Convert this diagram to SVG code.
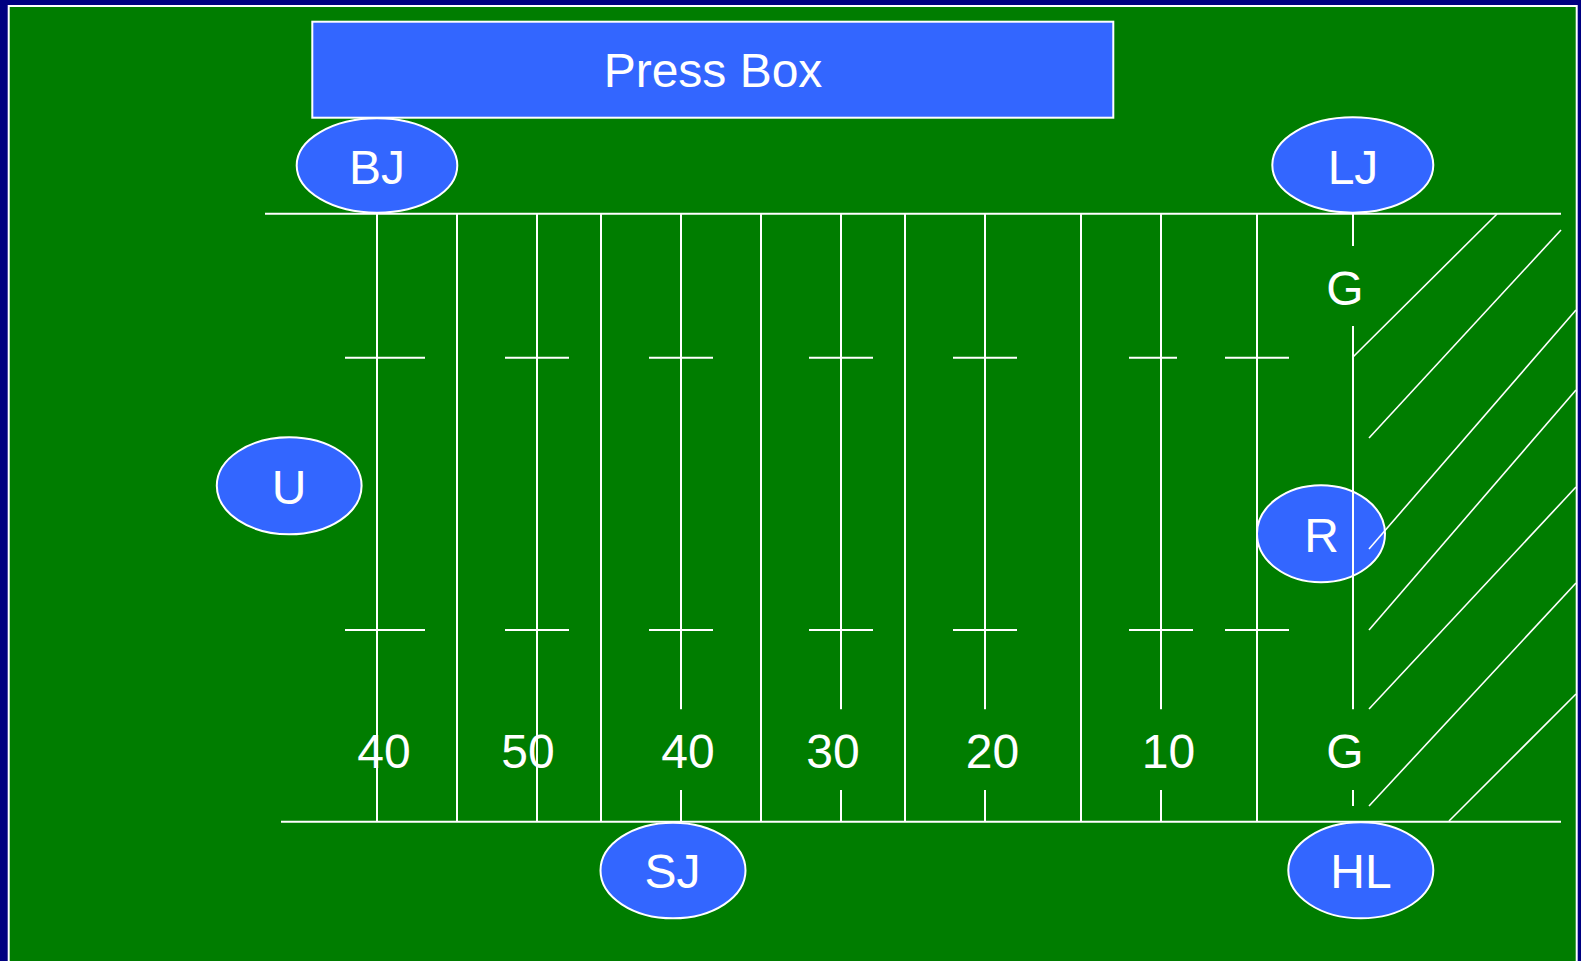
<svg xmlns="http://www.w3.org/2000/svg" width="1581" height="961" viewBox="0 0 1581 961">
<style>
.ln{stroke:#FFFFFF;stroke-width:2;fill:none}
.dg{stroke:#FFFFFF;stroke-width:1.6;fill:none}
.nd{fill:#3366FF;stroke:#FFFFFF;stroke-width:2}
.tx{font-family:"Liberation Sans",Arial,sans-serif;font-size:48px;fill:#FFFFFF;text-anchor:middle}
</style>
<rect x="0" y="0" width="1581" height="961" fill="#000080"/>
<rect x="8.7" y="6" width="1568" height="1000" fill="#007D00" stroke="#FFFFFF" stroke-width="2"/>

<g id="node-R">
<ellipse class="nd" cx="1321" cy="533.7" rx="64" ry="48.5"/>
<text class="tx" x="1321.5" y="551.5">R</text>
</g>

<g id="connectors">
<line class="ln" x1="265" y1="213.7" x2="1561" y2="213.7"/>
<line class="ln" x1="281" y1="821.7" x2="1561" y2="821.7"/>
<line class="ln" x1="377" y1="214" x2="377" y2="822"/>
<line class="ln" x1="457" y1="214" x2="457" y2="822"/>
<line class="ln" x1="537" y1="214" x2="537" y2="822"/>
<line class="ln" x1="601" y1="214" x2="601" y2="822"/>
<line class="ln" x1="681" y1="214" x2="681" y2="709.3"/>
<line class="ln" x1="681" y1="790" x2="681" y2="822"/>
<line class="ln" x1="761" y1="214" x2="761" y2="822"/>
<line class="ln" x1="841" y1="214" x2="841" y2="709.3"/>
<line class="ln" x1="841" y1="790" x2="841" y2="822"/>
<line class="ln" x1="905" y1="214" x2="905" y2="822"/>
<line class="ln" x1="985" y1="214" x2="985" y2="709.3"/>
<line class="ln" x1="985" y1="790" x2="985" y2="822"/>
<line class="ln" x1="1081" y1="214" x2="1081" y2="822"/>
<line class="ln" x1="1161" y1="214" x2="1161" y2="709.3"/>
<line class="ln" x1="1161" y1="790" x2="1161" y2="822"/>
<line class="ln" x1="1257" y1="214" x2="1257" y2="822"/>
<line class="ln" x1="1353" y1="214" x2="1353" y2="246"/>
<line class="ln" x1="1353" y1="326" x2="1353" y2="709.3"/>
<line class="ln" x1="1353" y1="790" x2="1353" y2="806"/>
<line class="ln" x1="345" y1="357.7" x2="425" y2="357.7"/>
<line class="ln" x1="505" y1="357.7" x2="569" y2="357.7"/>
<line class="ln" x1="649" y1="357.7" x2="713" y2="357.7"/>
<line class="ln" x1="809" y1="357.7" x2="873" y2="357.7"/>
<line class="ln" x1="953" y1="357.7" x2="1017" y2="357.7"/>
<line class="ln" x1="1129" y1="357.7" x2="1177" y2="357.7"/>
<line class="ln" x1="1225" y1="357.7" x2="1289" y2="357.7"/>
<line class="ln" x1="345" y1="630" x2="425" y2="630"/>
<line class="ln" x1="505" y1="630" x2="569" y2="630"/>
<line class="ln" x1="649" y1="630" x2="713" y2="630"/>
<line class="ln" x1="809" y1="630" x2="873" y2="630"/>
<line class="ln" x1="953" y1="630" x2="1017" y2="630"/>
<line class="ln" x1="1129" y1="630" x2="1193" y2="630"/>
<line class="ln" x1="1225" y1="630" x2="1289" y2="630"/>
<line class="dg" x1="1497" y1="214" x2="1353" y2="357"/>
<line class="dg" x1="1561" y1="230" x2="1369" y2="438"/>
<line class="dg" x1="1576" y1="310" x2="1369" y2="549"/>
<line class="dg" x1="1576" y1="390" x2="1369" y2="630"/>
<line class="dg" x1="1576" y1="487" x2="1369" y2="709"/>
<line class="dg" x1="1576" y1="583" x2="1369" y2="806"/>
<line class="dg" x1="1576" y1="694" x2="1449" y2="821"/>
</g>

<g id="field-labels">
<text class="tx" x="1345" y="304.5">G</text>
<text class="tx" x="384" y="768.3">40</text>
<text class="tx" x="528" y="768.3">50</text>
<text class="tx" x="688" y="768.3">40</text>
<text class="tx" x="833" y="768.3">30</text>
<text class="tx" x="992.5" y="768.3">20</text>
<text class="tx" x="1168.5" y="768.3">10</text>
<text class="tx" x="1345" y="768.3">G</text>
</g>

<g id="node-pressbox">
<rect class="nd" x="312.3" y="21.7" width="801" height="96"/>
<text class="tx" x="713" y="87.3">Press Box</text>
</g>
<g id="node-BJ">
<ellipse class="nd" cx="377" cy="165.5" rx="80.3" ry="47.2"/>
<text class="tx" x="377" y="184.3">BJ</text>
</g>
<g id="node-LJ">
<ellipse class="nd" cx="1352.8" cy="165" rx="80.5" ry="47.7"/>
<text class="tx" x="1353" y="184.3">LJ</text>
</g>
<g id="node-U">
<ellipse class="nd" cx="289.2" cy="485.8" rx="72.4" ry="48.5"/>
<text class="tx" x="289" y="504.3">U</text>
</g>
<g id="node-SJ">
<ellipse class="nd" cx="673" cy="870.5" rx="72.5" ry="47.8"/>
<text class="tx" x="672.5" y="888">SJ</text>
</g>
<g id="node-HL">
<ellipse class="nd" cx="1360.8" cy="870.3" rx="72.5" ry="48"/>
<text class="tx" x="1361" y="887.7">HL</text>
</g>
</svg>
